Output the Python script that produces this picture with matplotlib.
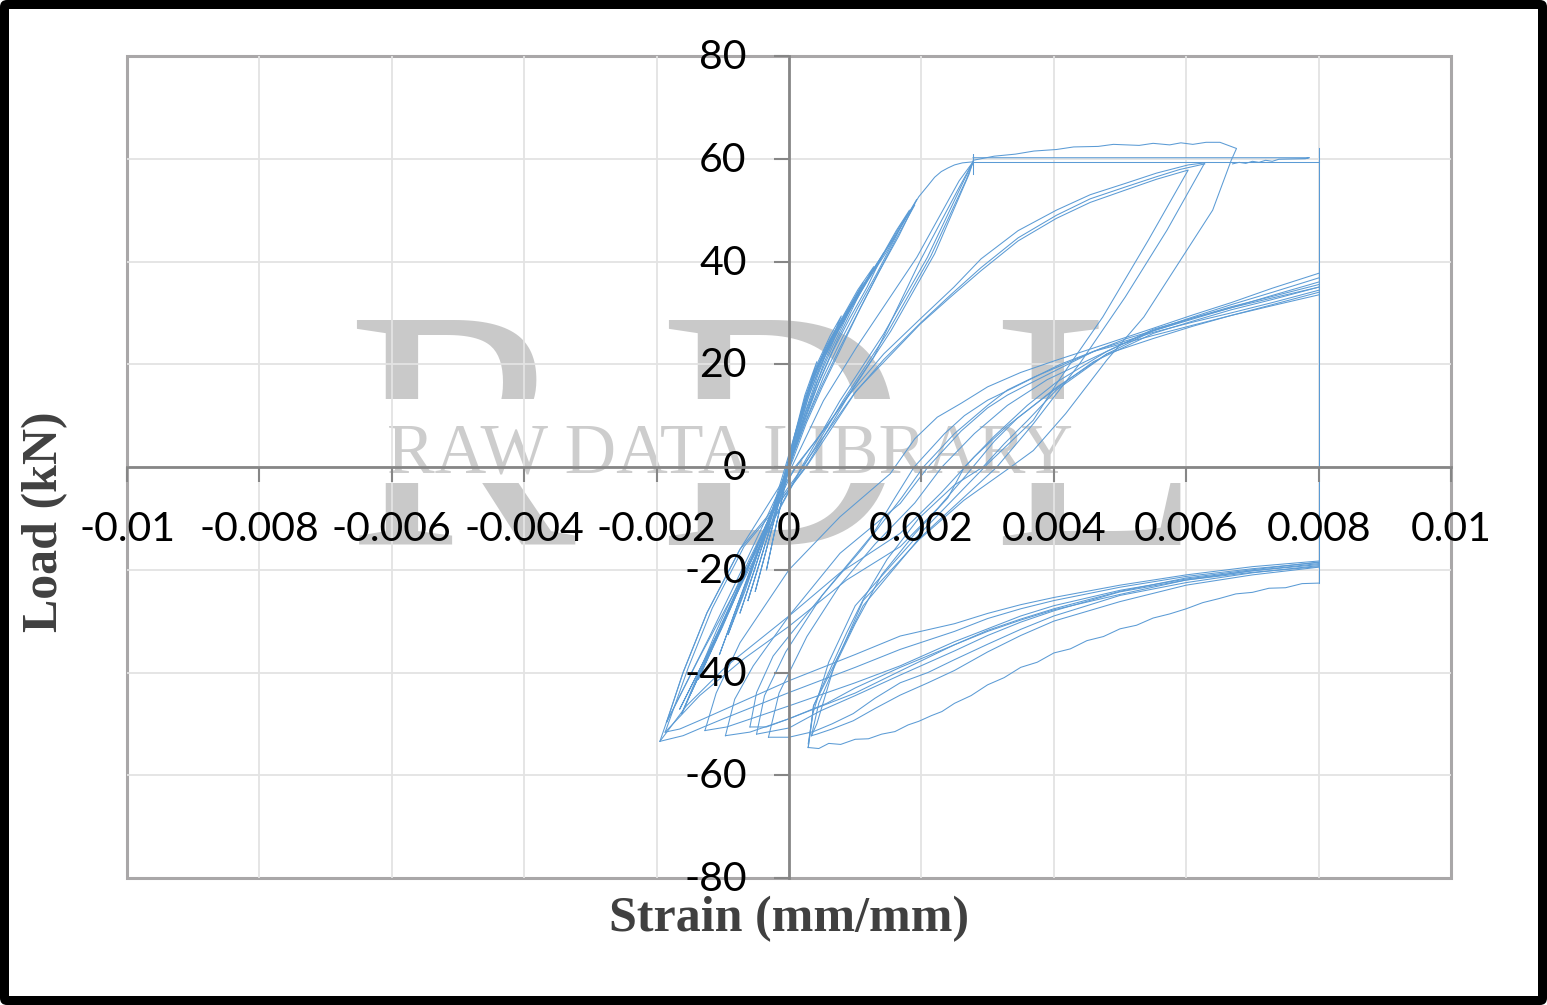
import matplotlib
matplotlib.use("Agg")
import matplotlib.pyplot as plt
from matplotlib.patches import Rectangle, FancyBboxPatch
from matplotlib.transforms import IdentityTransform, ScaledTranslation

# axis ticks
x_ticks = [-0.01, -0.008, -0.006, -0.004, -0.002, 0, 0.002, 0.004, 0.006, 0.008, 0.01]
x_tick_labels = ["-0.01", "-0.008", "-0.006", "-0.004", "-0.002", "0", "0.002", "0.004", "0.006", "0.008", "0.01"]
y_ticks = [-80, -60, -40, -20, 0, 20, 40, 60, 80]

# small elastic cycles, tip -> peak -> tip
e1_x = [-.00034, -.00024, -.00012, -.00002, .0001, .00024, .00042, .00032, .00018, .00004, -.0001, -.00024, -.00034]
e1_y = [-20, -14, -7, 0, 7, 14, 20.5, 16, 9, 2, -6, -14, -20]
e2_x = [-.00051, -.00036, -.00018, -.00004, .00009, .00024, .00044, .00062, .00079, .00062, .00044, .00024, .00007, -.00012, -.00032, -.00051]
e2_y = [-24.2, -17, -8, -1, 6, 13.5, 20.5, 25.5, 29.4, 24, 18, 10.5, 3, -5.5, -15, -24.2]
e3_x = [-.00074, -.00052, -.00028, -.00006, .00008, .00024, .00044, .00066, .00088, .00112, .0009, .00066, .00042, .00022, .00005, -.00016, -.00042, -.00074]
e3_y = [-28.4, -20, -10, -1, 6, 13, 20, 25.5, 30.5, 35.9, 30, 23.5, 16.5, 9.5, 3, -6, -16, -28.4]
e4_x = [-.00092, -.00066, -.00034, -.00008, .00008, .00026, .00046, .00068, .00092, .00118, .00143, .00118, .00092, .00066, .00042, .00022, .00006, -.0002, -.00054, -.00092]
e4_y = [-32.6, -24, -12, -1, 6, 13.5, 20, 25.5, 31, 36.5, 41.7, 35, 29, 22.5, 15.5, 9, 3, -7, -19, -32.6]
e5_x = [-.00137, -.001, -.0006, -.00022, -.00003, .00012, .00028, .00046, .00068, .00092, .0012, .00148, .00172, .00193, .00166, .00136, .00106, .00076, .00048, .00024, .00004, -.00024, -.0007, -.00137]
e5_y = [-41.3, -31, -19, -8, -1, 6, 13, 19.5, 25, 30.5, 36.5, 42, 47.5, 52.1, 45, 38, 30.5, 23, 15.5, 8.5, 1.5, -8, -22, -41.3]
e6_x = [-.00162, -.0012, -.00074, -.00028, -.00005, .0001, .00026, .00044, .00066, .00088, .00116, .00144, .00168, .0019, .00162, .00134, .00108, .0008, .0005, .00026, .00006, -.00028, -.00086, -.00162]
e6_y = [-48, -36, -23, -9.5, -1, 6, 13, 19.5, 25, 30, 36, 41.7, 47, 51, 44.5, 37.5, 31, 23.5, 15.5, 8.5, 1.5, -9.5, -26, -48]
e7_x = [-.00105, -.00078, -.0004, -.00012, .00003, .00018, .00036, .00056, .0008, .00104, .00128, .00102, .00074, .00048, .00028, .0001, -.00014, -.0006, -.00105]
e7_y = [-36.5, -27, -14, -4, 3, 10.5, 17.5, 23.5, 29, 34.5, 39, 32.5, 25, 17.5, 10.5, 4, -5, -20.5, -36.5]
e8_x = [-.00062, -.00044, -.00022, -.00002, .00014, .0003, .00052, .00072, .00096, .00072, .00052, .00032, .00012, -.00008, -.00036, -.00062]
e8_y = [-26, -18.5, -9, 0, 8, 15, 22, 27, 32, 26, 20, 12.5, 5, -4, -15, -26]
e9_x = [-.00148, -.0011, -.00068, -.0003, -.00006, .00008, .00024, .00042, .00062, .00086, .00112, .0014, .00162, .00182, .0016, .00132, .00104, .00078, .00052, .0003, .00008, -.0002, -.00078, -.00148]
e9_y = [-44, -33.5, -21.5, -10, -2, 5, 12.5, 19, 24.5, 30, 35.5, 41, 46, 50, 44.5, 37.5, 31, 24.5, 17.5, 10.5, 3, -7, -24, -44]

# cycles up to the yield point and back
y1_x = [-.00165, -.00118, -.00074, -.0003, -.00003, .00012, .0003, .00052, .00078, .00108, .00138, .00168, .00196, .0021, .0022, .0023, .0024, .0025, .00262, .00278, .00254, .00198, .00128, .00057, .00009, -.0004, -.0009, -.00165]
y1_y = [-47.1, -35, -23, -10.5, -1, 6, 14, 21, 27.5, 34, 40.5, 46.5, 52.6, 54.8, 56.4, 57.5, 58.2, 58.8, 59.2, 59.4, 53.7, 40.1, 21.4, 7.8, 0, -13, -28, -47.1]
y2_x = [-.00185, -.0016, -.00124, -.00074, -.00035, .00004, .00052, .00102, .00193, .00257, .00278, .00264, .00209, .00143, .00077, .00019, -.00035, -.00085, -.00135, -.00185]
y2_y = [-49.7, -40, -28.4, -16, -8, 0, 12.9, 23.3, 40.8, 55.7, 59.4, 55.7, 40.8, 25.9, 12.9, 0, -13, -25, -37, -49.7]
y3_x = [.00278, .00268, .00214, .00148, .00082, .00024, -.00032, -.00074, -.00124, -.0016, -.00178, -.00195]
y3_y = [59.4, 56, 41, 26, 13, 0.5, -9.5, -16, -28.4, -40, -47, -53.4]
y4_x = [.00278, .00272, .0022, .00154, .00088, .0003, -.00026, -.00068, -.00116, -.00152, -.0017, -.00187]
y4_y = [59.4, 57, 41.5, 26.5, 13.5, 1, -9, -15.5, -27.5, -39, -45.5, -51.6]

# plateau lines and vertical limit at the end of the gauge range
plateau_x = [.00278, .00278, .00278, .00278, .008]
plateau_y = [57, 61, 59.4, 59.4, 59.4]
plateau2_x = [.00278, .0035, .0045, .0055, .0065, .00786, .0078, .0074, .0073, .0072, .0071, .007, .0069, .0068, .0067]
plateau2_y = [60.2, 60.2, 60.2, 60.2, 60.2, 60.2, 60, 59.9, 59.5, 59.7, 59.3, 59.5, 59.1, 59.3, 59]
limit_x = [.008, .008]
limit_y = [62, -22.6]

# yield -> top of the hardening curve -> unloading to the tip
top_x = [.00278, .0031, .00342, .0037, .00404, .0043, .00467, .0049, .00529, .0055, .00575, .00592, .0061, .0063, .00651, .00676, .00668, .0064, .00588, .00536, .0048, .00418, .00369, .00335, .00264, .00196, .00112, .00078, .00037, .00029]
top_y = [59.7, 60.5, 60.9, 61.5, 61.8, 62.3, 62.4, 62.8, 62.6, 63, 62.7, 63.1, 62.8, 63.2, 63.2, 62, 59.7, 50, 39.6, 29.2, 20.8, 10.4, 3.2, 0, -6.5, -14.2, -26, -36, -46.5, -54.6]

# second-stage reloading curves and their unloading
mid_a_x = [-.00185, -.0012, -.0006, -.0002, .00011, .00092, .00143, .00198, .00249, .0029, .00346, .00404, .00455, .00508, .00555, .00603, .00628, .00571, .00508, .00439, .00369, .00314, .00196, .00112, .0007, .00042, .00034]
mid_a_y = [-49.7, -33, -17, -6, 0, 14.2, 22, 28.8, 35, 40.5, 46, 50, 53, 55.2, 57.2, 58.8, 59.2, 46.1, 33.1, 20.1, 8.4, 0, -14, -27, -38, -50, -52.3]
mid_b_x = [-.00162, -.0011, -.0006, -.00022, .00026, .00102, .00143, .00198, .00245, .0029, .00346, .00404, .00455, .00508, .00555, .00603, .00543, .00474, .00404, .00369, .003, .0019, .001, .0006, .00036, .00029]
mid_b_y = [-48, -32, -18, -8, 0, 14.9, 20.4, 27.8, 33.2, 38.2, 44, 48.4, 51.5, 53.9, 56, 57.8, 44.2, 29.2, 16.2, 9.1, .6, -14, -27, -38, -48, -53.9]
mid_c_x = [-.00137, -.0008, -.0003, .0002, .00098, .00143, .002, .00245, .0029, .00346, .00404, .00455, .00508, .00555, .0059, .00628]
mid_c_y = [-41.3, -25, -12, 0, 14.2, 20.9, 28.2, 33.6, 38.8, 44.6, 49, 52.2, 54.5, 56.5, 57.9, 59]

# lowest compression branch, from the limit strain to the tip
low_x = [.008, .00775, .0075, .00725, .007, .00675, .0065, .00625, .006, .00575, .0055, .00525, .005, .00475, .0045, .00425, .004, .00375, .0035, .00325, .003, .00275, .0025, .00231, .00215, .00196, .0018, .0016, .0014, .0012, .001, .00078, .0006, .00045, .00029]
low_y = [-22.6, -22.7, -23.5, -23.6, -24.4, -24.7, -25.6, -26.4, -27.6, -28.6, -29.4, -30.8, -31.5, -33, -33.8, -35.4, -36.2, -38, -39, -41, -42.4, -44.5, -46, -47.6, -48.4, -49.5, -50.2, -51.5, -52, -52.9, -53, -54, -53.8, -54.8, -54.6]

# remaining compression branches, each ending at its tip
bj_x = [.008, .007, .006, .005, .004, .0035, .003, .0025, .0021, .00168, .0013, .00097, .00065, .00042, .00034]
bj_y = [-19.5, -21, -23, -26.2, -30, -32.8, -36, -39.6, -42, -44.4, -47, -49.4, -51, -52, -52.3]
bi_x = [.008, .007, .006, .005, .004, .0035, .003, .0025, .0021, .00168, .0013, .00097, .00065, .00037, 0, -.00031]
bi_y = [-19.2, -20.6, -22.5, -25, -29, -31.6, -34.5, -37.5, -40, -42, -45, -48, -50, -51.5, -52.6, -52.6]
bh_x = [.008, .007, .006, .005, .004, .0035, .003, .0025, .00168, .001, .00047, 0, -.00049]
bh_y = [-18.8, -20.2, -22, -24.3, -28, -30.2, -32.8, -35.8, -40.5, -44.5, -47.5, -50.8, -52]
bg_x = [.008, .007, .006, .005, .004, .0035, .003, .0025, .00168, .001, .00057, 0, -.00034, -.00059]
bg_y = [-19.4, -20.5, -22, -24.8, -27.8, -29.8, -32, -34.6, -39, -43, -46, -49, -50.6, -50.6]
bf_x = [.008, .007, .006, .005, .004, .0035, .003, .0025, .00168, .001, 0, -.00059, -.00096]
bf_y = [-18.5, -20, -21.6, -24.2, -27.6, -29.6, -31.8, -34.6, -39.7, -44, -49, -51.6, -52.3]
be_x = [.008, .007, .006, .005, .004, .0035, .003, .0025, .00168, .001, 0, -.00094, -.00127]
be_y = [-19, -20.2, -21.8, -24, -27, -29, -31.5, -34, -38.7, -42, -46.5, -50.6, -51.3]
ba_x = [.008, .007, .006, .005, .004, .0035, .003, .0025, .00168, .001, 0, -.00099, -.00129, -.0016, -.00195]
ba_y = [-18.6, -19.8, -21.3, -23.4, -26, -27.6, -29.5, -32, -35.5, -39, -43.9, -49, -50.6, -52.3, -53.4]
bb_x = [.008, .007, .006, .005, .004, .0035, .003, .0025, .00168, .001, 0, -.00129, -.00165, -.00187]
bb_y = [-18.3, -19.4, -21, -23, -25.4, -26.8, -28.5, -30.5, -32.9, -36.5, -41.6, -49, -51, -51.6]

# reloading from each tip up to the last tension branch
rj_x = [.00029, .00034, .00037, .00062, .00087, .00112, .00148, .00196, .0025, .00293, .00325, .0036, .00404, .0048, .0055, .0061, .00668, .0073, .008]
rj_y = [-54.6, -50, -46.5, -39.4, -32.3, -25.8, -18, -10, -3.5, 0, 4.5, 9, 15, 22, 26.5, 28.8, 31, 33.4, 36]
rk_x = [.00034, .00045, .0007, .001, .0014, .0019, .0024, .00265, .0031, .0036, .00404, .0048, .0055, .0061, .00668, .0073, .008]
rk_y = [-52.3, -46, -38.5, -30.5, -21, -13, -6, 0, 6, 12, 16.5, 22.5, 26.6, 29.2, 31.6, 34, 36.8]
ri_x = [-.00031, -.00015, .00027, .00077, .0013, .0019, .00231, .0028, .0033, .0039, .0048, .0055, .0061, .00668, .0073, .008]
ri_y = [-52.6, -44, -33, -23, -15, -7, 0, 6.5, 12, 17, 22.5, 26.8, 29, 31, 32.9, 35]
rh_x = [-.00049, -.00037, -.00005, .0005, .0011, .0017, .00203, .0025, .003, .0033, .0037, .0047, .0055, .0061, .00668, .0073, .008]
rh_y = [-52, -44.5, -36, -25, -16, -6, 0, 6.5, 12, 15, 17.5, 23, 26.2, 28.2, 30, 32, 34.4]
rg_x = [-.00059, -.00049, -.00024, 0, .00057, .00127, .0016, .00189, .00235, .00265, .003, .0034, .0041, .0051, .0055, .0061, .00668, .0073, .008]
rg_y = [-50.6, -43.9, -36.8, -32.9, -23.9, -13, -6, 0, 6.5, 10, 13, 15.5, 20, 25, 26.5, 29, 31.2, 33.2, 35.5]
rf_x = [-.00096, -.00082, -.00054, 0, .00077, .00168, .0021, .0026, .003, .0033, .0036, .0046, .0055, .0061, .00668, .0073, .008]
rf_y = [-52.3, -45.2, -38.7, -29, -16.8, -7.1, 0, 7, 11.5, 14, 16, 22.5, 25.6, 27.6, 29.5, 31.4, 33.5]
re_x = [-.00127, -.0011, -.00074, 0, .00077, .00153, .0016, .0019, .00224, .0026, .003, .0035, .00404, .0048, .0055, .0061, .00668, .0073, .008]
re_y = [-51.3, -44, -34.2, -20, -9.7, -1.3, 0, 5.5, 9.7, 12.4, 15.6, 18.4, 20.8, 24, 27, 29.6, 32, 34.8, 37.7]
ra_x = [-.00195, -.00155, -.00094, 0, .00077, .00168, .0023, .0028, .0033, .0036, .00404, .0048, .0055, .0061, .00668, .0073, .008]
ra_y = [-53.4, -46.5, -38.7, -29, -20.6, -12.9, -5, 2, 8, 11, 15.5, 22, 25, 27.4, 29.5, 31.6, 34]
rb_x = [-.00187, -.00135, -.00069, 0, .00087, .00168, .00225, .00265, .0031, .00345, .0039, .0046, .0055, .0061, .00668, .0073, .008]
rb_y = [-51.6, -44.5, -37.4, -31, -22, -15.5, -8, -2, 5, 9.5, 14, 20.5, 26, 28.4, 30.6, 32.6, 35]

curves = [
    (e1_x, e1_y), (e2_x, e2_y), (e3_x, e3_y), (e4_x, e4_y), (e5_x, e5_y), (e6_x, e6_y),
    (e7_x, e7_y), (e8_x, e8_y), (e9_x, e9_y),
    (y1_x, y1_y), (y2_x, y2_y), (y3_x, y3_y), (y4_x, y4_y), (plateau_x, plateau_y), (plateau2_x, plateau2_y),
    (limit_x, limit_y), (top_x, top_y), (mid_a_x, mid_a_y), (mid_b_x, mid_b_y), (mid_c_x, mid_c_y),
    (low_x, low_y), (bj_x, bj_y), (bi_x, bi_y), (bh_x, bh_y), (bg_x, bg_y), (bf_x, bf_y),
    (be_x, be_y), (ba_x, ba_y), (bb_x, bb_y),
    (rj_x, rj_y), (rk_x, rk_y), (ri_x, ri_y), (rh_x, rh_y), (rg_x, rg_y), (rf_x, rf_y),
    (re_x, re_y), (ra_x, ra_y), (rb_x, rb_y),
]

W, H = 1547, 1005
line_color = "#5B9BD5"
axis_color = "#868686"
frame_color = "#A9A7A8"
grid_color = "#E3E3E3"
mark_color = "#C9C9C9"

fig = plt.figure(figsize=(W / 100, H / 100), dpi=100, facecolor="white")

# black rounded border
fig.add_artist(FancyBboxPatch((0, 0), W, H, boxstyle="round,pad=0,rounding_size=7",
                              transform=IdentityTransform(), fc="black", ec="none", zorder=-6))
fig.add_artist(Rectangle((9 / W, 9 / H), (W - 18) / W, (H - 18) / H, transform=fig.transFigure,
                         fc="white", ec="none", zorder=-5))

# background lettering
for letter, px in [("R", 346), ("D", 658), ("L", 992)]:
    fig.text(px / W, 1 - 545 / H, letter, fontsize=247, family="Liberation Serif",
             color=mark_color, ha="left", va="baseline", zorder=-4)
fig.add_artist(Rectangle((127 / W, 1 - 483 / H), 1324 / W, 84 / H, transform=fig.transFigure,
                         fc="white", ec="none", zorder=-3))
fig.text(730 / W, 1 - 472 / H, "RAW DATA LIBRARY", fontsize=51.5, family="Liberation Serif",
         color="#CDCDCD", ha="center", va="baseline", zorder=-2)

ax = fig.add_axes([127 / W, (H - 878) / H, 1324 / W, 822 / H])
ax.set_xlim(-0.01, 0.01)
ax.set_ylim(-80, 80)
ax.patch.set_facecolor("none")
ax.patch.set_edgecolor(frame_color)
ax.patch.set_linewidth(2.2)

# grid drawn as plain lines so the curves sit above it and the labels above the curves
for xt in x_ticks[1:-1]:
    ax.axvline(xt, color=grid_color, lw=1.3, zorder=0.5)
for yt in y_ticks[1:-1]:
    ax.axhline(yt, color=grid_color, lw=1.3, zorder=0.5)

for cx, cy in curves:
    ax.plot(cx, cy, color=line_color, lw=0.75, zorder=1, clip_on=False)

for name in ["top", "right"]:
    ax.spines[name].set_visible(False)
ax.spines["left"].set_position("zero")
ax.spines["bottom"].set_position("zero")
ax.spines["left"].set_color(axis_color)
ax.spines["bottom"].set_color(axis_color)
ax.spines["left"].set_linewidth(2)
ax.spines["bottom"].set_linewidth(2)
ax.spines["left"].set_zorder(1.6)
ax.spines["bottom"].set_zorder(1.6)

ax.set_xticks(x_ticks)
ax.set_xticklabels(x_tick_labels)
ax.set_yticks(y_ticks)
ax.set_yticklabels([str(v) for v in y_ticks])
ax.tick_params(axis="x", direction="out", length=10.5, width=1.5, color=axis_color, pad=21,
               labelsize=29.5, labelcolor="black")
ax.tick_params(axis="y", direction="out", length=10.5, width=1.5, color=axis_color, pad=20,
               labelsize=29.5, labelcolor="black")
for lab in ax.get_xticklabels() + ax.get_yticklabels():
    lab.set_family("Lato")
# nudge the load labels up so the digits centre on their ticks
nudge = ScaledTranslation(0, 2 / 100, fig.dpi_scale_trans)
for lab in ax.get_yticklabels():
    lab.set_transform(lab.get_transform() + nudge)

fig.text(789 / W, 1 - 919 / H, "Strain (mm/mm)", fontsize=36, family="Liberation Serif", weight="bold",
         color="#404040", ha="center", va="center")
fig.text(45 / W, 1 - 522 / H, "Load (kN)", fontsize=36, family="Liberation Serif", weight="bold",
         color="#404040", ha="center", va="center", rotation=90)

fig.savefig("out.png", dpi=100, facecolor="white")
